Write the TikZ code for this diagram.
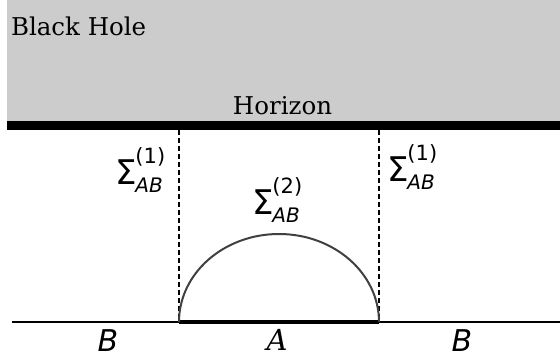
\documentclass[tikz,border=0pt]{standalone}
\usepackage{fontspec}
\setmainfont{DejaVu Serif}
\newfontfamily\dvs{DejaVu Sans}
\newcommand{\sigmalab}[1]{{\dvs\fontsize{34}{34}\selectfont Σ}\kern-1pt\rlap{\raisebox{21pt}{\dvs\fontsize{21}{21}\selectfont (#1)}}\raisebox{-8pt}{\dvs\itshape\fontsize{20}{20}\selectfont AB}}
\tikzset{
  lbl/.style={inner sep=0pt, outer sep=0pt},
  dashv/.style={line width=1.8pt, dash pattern=on 5pt off 3pt},
  region/.style={lbl, font=\dvs\itshape\fontsize{30}{30}\selectfont, anchor=base},
}
\begin{document}
\begin{tikzpicture}[x=1pt,y=1pt]
\useasboundingbox (0,0) rectangle (560,358);
% black hole region
\fill[black!20] (7,237) rectangle (560,358);
\fill[black] (7,228) rectangle (560,237);
\node[lbl, anchor=base west, font=\fontsize{24.5}{24.5}\selectfont] (bh) at (11,322) {Black Hole};
\node[lbl, anchor=base, font=\fontsize{24.5}{24.5}\selectfont] (hz) at (282.5,243) {Horizon};
% boundary
\coordinate (L) at (12,36);
\coordinate (R) at (560,36);
\coordinate (a1) at (179,36);
\coordinate (a2) at (379,36);
\coordinate (t1) at (179,228);
\coordinate (t2) at (379,228);
\draw[line width=2pt] (L) -- (R);
\draw[line width=3.2pt] (a1) -- (a2);
\draw[dashv] (t1) -- (a1);
\draw[dashv] (t2) -- (a2);
\draw[line width=2pt, black!75] (a1) arc[start angle=180, end angle=0, x radius=100, y radius=88];
% labels
\node[lbl, anchor=base west] (s1) at (115,173) {\sigmalab{1}};
\node[lbl, anchor=base west] (s3) at (387,176) {\sigmalab{1}};
\node[lbl, anchor=base west] (s2) at (252,143) {\sigmalab{2}};
\node[region] (bl) at (108,6) {B};
\node[region] (br) at (462,6) {B};
\node[lbl, anchor=base, font=\itshape\fontsize{29}{29}\selectfont] (aa) at (277,7) {A};
\end{tikzpicture}
\end{document}
